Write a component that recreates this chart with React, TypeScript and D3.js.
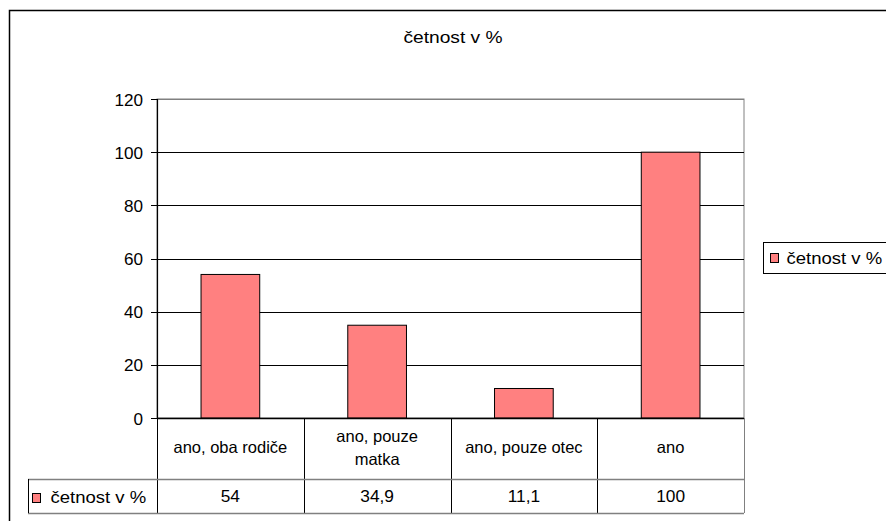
import React from "react";
import * as d3 from "d3";

const categories: string[][] = [["ano, oba rodiče"], ["ano, pouze", "matka"], ["ano, pouze otec"], ["ano"]];
const values: number[] = [54, 34.9, 11.1, 100];
const valueLabels: string[] = ["54", "34,9", "11,1", "100"];
const yTicks: number[] = [0, 20, 40, 60, 80, 100, 120];
const seriesName = "četnost v %";
const title = "četnost v %";

function T(props: { x: number; y: number; size: number; sx?: number; anchor?: string; children: React.ReactNode }) {
  const { x, y, size, sx = 1, anchor = "start", children } = props;
  return (
    <text transform={`translate(${x},${y}) scale(${sx},1)`} fontSize={size} textAnchor={anchor as any}>{children}</text>
  );
}

export default function App() {
  const W = 886, H = 521;
  const left = 157, right = 744, top = 99, bottom = 418;
  const row1 = 479, row2 = 513, tableLeft = 28;
  const x = d3.scaleBand<number>().domain(d3.range(categories.length)).range([left, right]).paddingInner(0.6).paddingOuter(0.3);
  const xc = d3.scaleBand<number>().domain(d3.range(categories.length)).range([left, right]);
  const y = d3.scaleLinear().domain([0, 120]).range([bottom, top]);
  const font = "'Liberation Sans', Arial, sans-serif";
  const fill = "#FF8080";
  return (
    <svg width={W} height={H} style={{ position: "absolute", left: 0, top: 0, background: "#fff" }} fontFamily={font}>
      <rect x={9.5} y={10.5} width={900} height={540} fill="#fff" stroke="#000" strokeWidth={1.5} />
      <T x={453} y={43} size={16} sx={1.2} anchor="middle">{title}</T>
      {/* plot area */}
      <rect x={left} y={top} width={right - left} height={bottom - top} fill="#fff" stroke="#808080" strokeWidth={1} />
      {yTicks.filter(t => t > 0).map(t => (
        <line key={"g" + t} x1={left} x2={right} y1={Math.round(y(t)) + 0.5} y2={Math.round(y(t)) + 0.5} stroke={t === 120 ? "#808080" : "#000"} strokeWidth={1} />
      ))}
      {values.map((v, i) => (
        <rect key={"b" + i} x={x(i)!} y={y(v)} width={x.bandwidth()} height={bottom - y(v)} fill={fill} stroke="#000" strokeWidth={1} />
      ))}
      {/* y axis */}
      <line x1={left + 0.5} x2={left + 0.5} y1={top} y2={bottom} stroke="#000" strokeWidth={1.2} />
      {yTicks.map(t => (
        <g key={"t" + t}>
          <line x1={left - 6} x2={left} y1={Math.round(y(t)) + 0.5} y2={Math.round(y(t)) + 0.5} stroke="#000" />
          <T x={143} y={y(t) + 6.5} size={16} sx={1.07} anchor="end">{t}</T>
        </g>
      ))}
      <line x1={left} x2={right} y1={bottom + 0.5} y2={bottom + 0.5} stroke="#000" strokeWidth={1.5} />
      {/* data table */}
      {d3.range(categories.length + 1).map(i => {
        const xx = i < categories.length ? xc(i)! : right;
        return <line key={"v" + i} x1={Math.round(xx) + 0.5} x2={Math.round(xx) + 0.5} y1={bottom} y2={row2} stroke={i === categories.length ? "#808080" : "#000"} strokeWidth={1} />;
      })}
      <line x1={tableLeft} x2={right} y1={row1 + 0.5} y2={row1 + 0.5} stroke="#808080" strokeWidth={1.5} />
      <line x1={tableLeft} x2={right} y1={row2 + 0.5} y2={row2 + 0.5} stroke="#808080" strokeWidth={1.5} />
      <line x1={tableLeft + 0.5} x2={tableLeft + 0.5} y1={row1} y2={row2} stroke="#000" />
      {categories.map((lines, i) => {
        const cx = xc(i)! + xc.bandwidth() / 2;
        return lines.map((s, j) => (
          <T key={"c" + i + j} x={cx} y={453 + (j - (lines.length - 1) / 2) * 23} size={16.5} anchor="middle">{s}</T>
        ));
      })}
      {valueLabels.map((s, i) => (
        <T key={"l" + i} x={xc(i)! + xc.bandwidth() / 2} y={502} size={16.5} sx={1.05} anchor="middle">{s}</T>
      ))}
      <rect x={32.5} y={493.5} width={8} height={9} fill={fill} stroke="#000" />
      <T x={50.5} y={503} size={17} sx={1.09}>{seriesName}</T>
      {/* legend */}
      <rect x={763.5} y={242.5} width={140} height={31} fill="#fff" stroke="#000" />
      <rect x={770.5} y={253.5} width={8} height={9} fill={fill} stroke="#000" />
      <T x={786.5} y={263.5} size={17} sx={1.09}>{seriesName}</T>
    </svg>
  );
}
